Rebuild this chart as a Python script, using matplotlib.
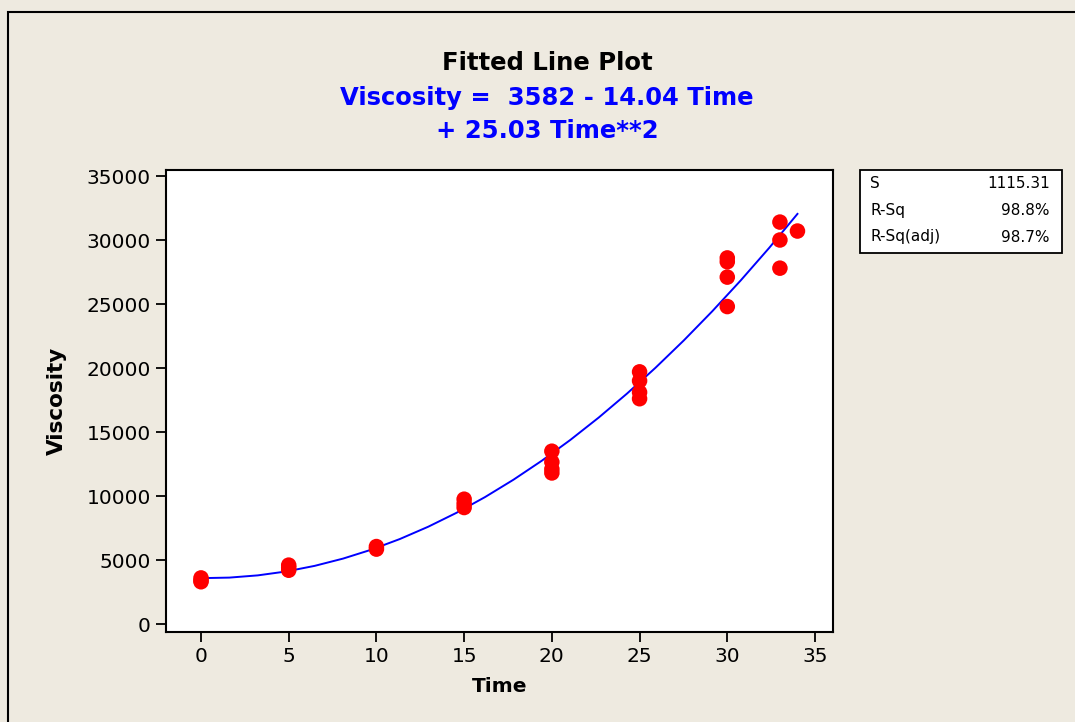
import numpy as np
import matplotlib
matplotlib.use("Agg")
import matplotlib.pyplot as plt
from matplotlib.patches import Rectangle

# Data
time = [0, 0, 0, 5, 5, 5, 10, 10, 15, 15, 15,
        20, 20, 20, 20, 25, 25, 25, 25, 30, 30, 30, 30, 33, 33, 33, 34]
viscosity = [3600, 3400, 3300, 4600, 4400, 4200, 6050, 5850, 9750, 9400, 9100,
             13500, 12650, 12100, 11800, 19700, 19000, 18100, 17600,
             28600, 28300, 27100, 24800, 31400, 30000, 27800, 30700]
coef = [3582, -14.04, 25.03]  # fitted model from the title
stats_labels = ["S", "R-Sq", "R-Sq(adj)"]
stats_values = ["1115.31", "98.8%", "98.7%"]
xticks = [0, 5, 10, 15, 20, 25, 30, 35]
yticks = [0, 5000, 10000, 15000, 20000, 25000, 30000, 35000]

bg = "#EEEAE0"
plt.rcParams['font.family'] = ['DejaVu Sans']

W, H = 1075, 722
fig = plt.figure(figsize=(W / 100, H / 100), dpi=100, facecolor=bg)

# outer frame
fig.patches.append(Rectangle((8 / W, -0.05), 1.2, (H - 12) / H + 0.05, transform=fig.transFigure,
                             fill=False, edgecolor="black", linewidth=1.5))

ax_l, ax_r, ax_t, ax_b = 166, 833, 170, 632
ax = fig.add_axes([ax_l / W, 1 - ax_b / H, (ax_r - ax_l) / W, (ax_b - ax_t) / H])
ax.set_facecolor("white")

# axis limits from pixel positions: x0 at 201, x35 at 815 ; y0 at 624, y35000 at 176
px_per_x = (815 - 201) / 35
ax.set_xlim(-(201 - ax_l) / px_per_x, 35 + (ax_r - 815) / px_per_x)
px_per_y = (624 - 176) / 35000
ax.set_ylim(-(ax_b - 624) / px_per_y, 35000 + (176 - ax_t) / px_per_y)

tfit = np.linspace(0, 34, 22)
vfit = coef[0] + coef[1] * tfit + coef[2] * tfit ** 2
ax.plot(tfit, vfit, color="#0000FF", linewidth=1.4, zorder=2)
ax.scatter(time, viscosity, s=125, color="#FF0000", edgecolors="none", zorder=3)

ax.set_xticks(xticks)
ax.set_yticks(yticks)
ax.tick_params(direction="out", length=7, width=1.3, labelsize=14.5, colors="black", pad=4)
for sp in ax.spines.values():
    sp.set_linewidth(1.5)
ax.set_xlabel("Time", fontsize=14.5, fontweight="bold", labelpad=8)
ax.set_ylabel("Viscosity", fontsize=15.5, fontweight="bold", labelpad=14)

# titles
fig.text(547 / W, 1 - 63 / H, "Fitted Line Plot", ha="center", va="center",
         fontsize=17.5, fontweight="bold", color="black")
fig.text(547 / W, 1 - 98 / H, "Viscosity =  3582 - 14.04 Time", ha="center", va="center",
         fontsize=17.5, fontweight="bold", color="#0000FF")
fig.text(547 / W, 1 - 131 / H, "+ 25.03 Time**2", ha="center", va="center",
         fontsize=17.5, fontweight="bold", color="#0000FF")

# stats box
bx_l, bx_r, bx_t, bx_b = 860, 1062, 170, 253
fig.patches.append(Rectangle((bx_l / W, 1 - bx_b / H), (bx_r - bx_l) / W, (bx_b - bx_t) / H,
                             transform=fig.transFigure, facecolor="white", edgecolor="black",
                             linewidth=1.3))
for i, (lab, val) in enumerate(zip(stats_labels, stats_values)):
    y = 1 - (184 + i * 26.5) / H
    fig.text(870 / W, y, lab, ha="left", va="center", fontsize=11)
    fig.text(1050 / W, y, val, ha="right", va="center", fontsize=11)

fig.savefig("out.png", dpi=100, facecolor=bg)
